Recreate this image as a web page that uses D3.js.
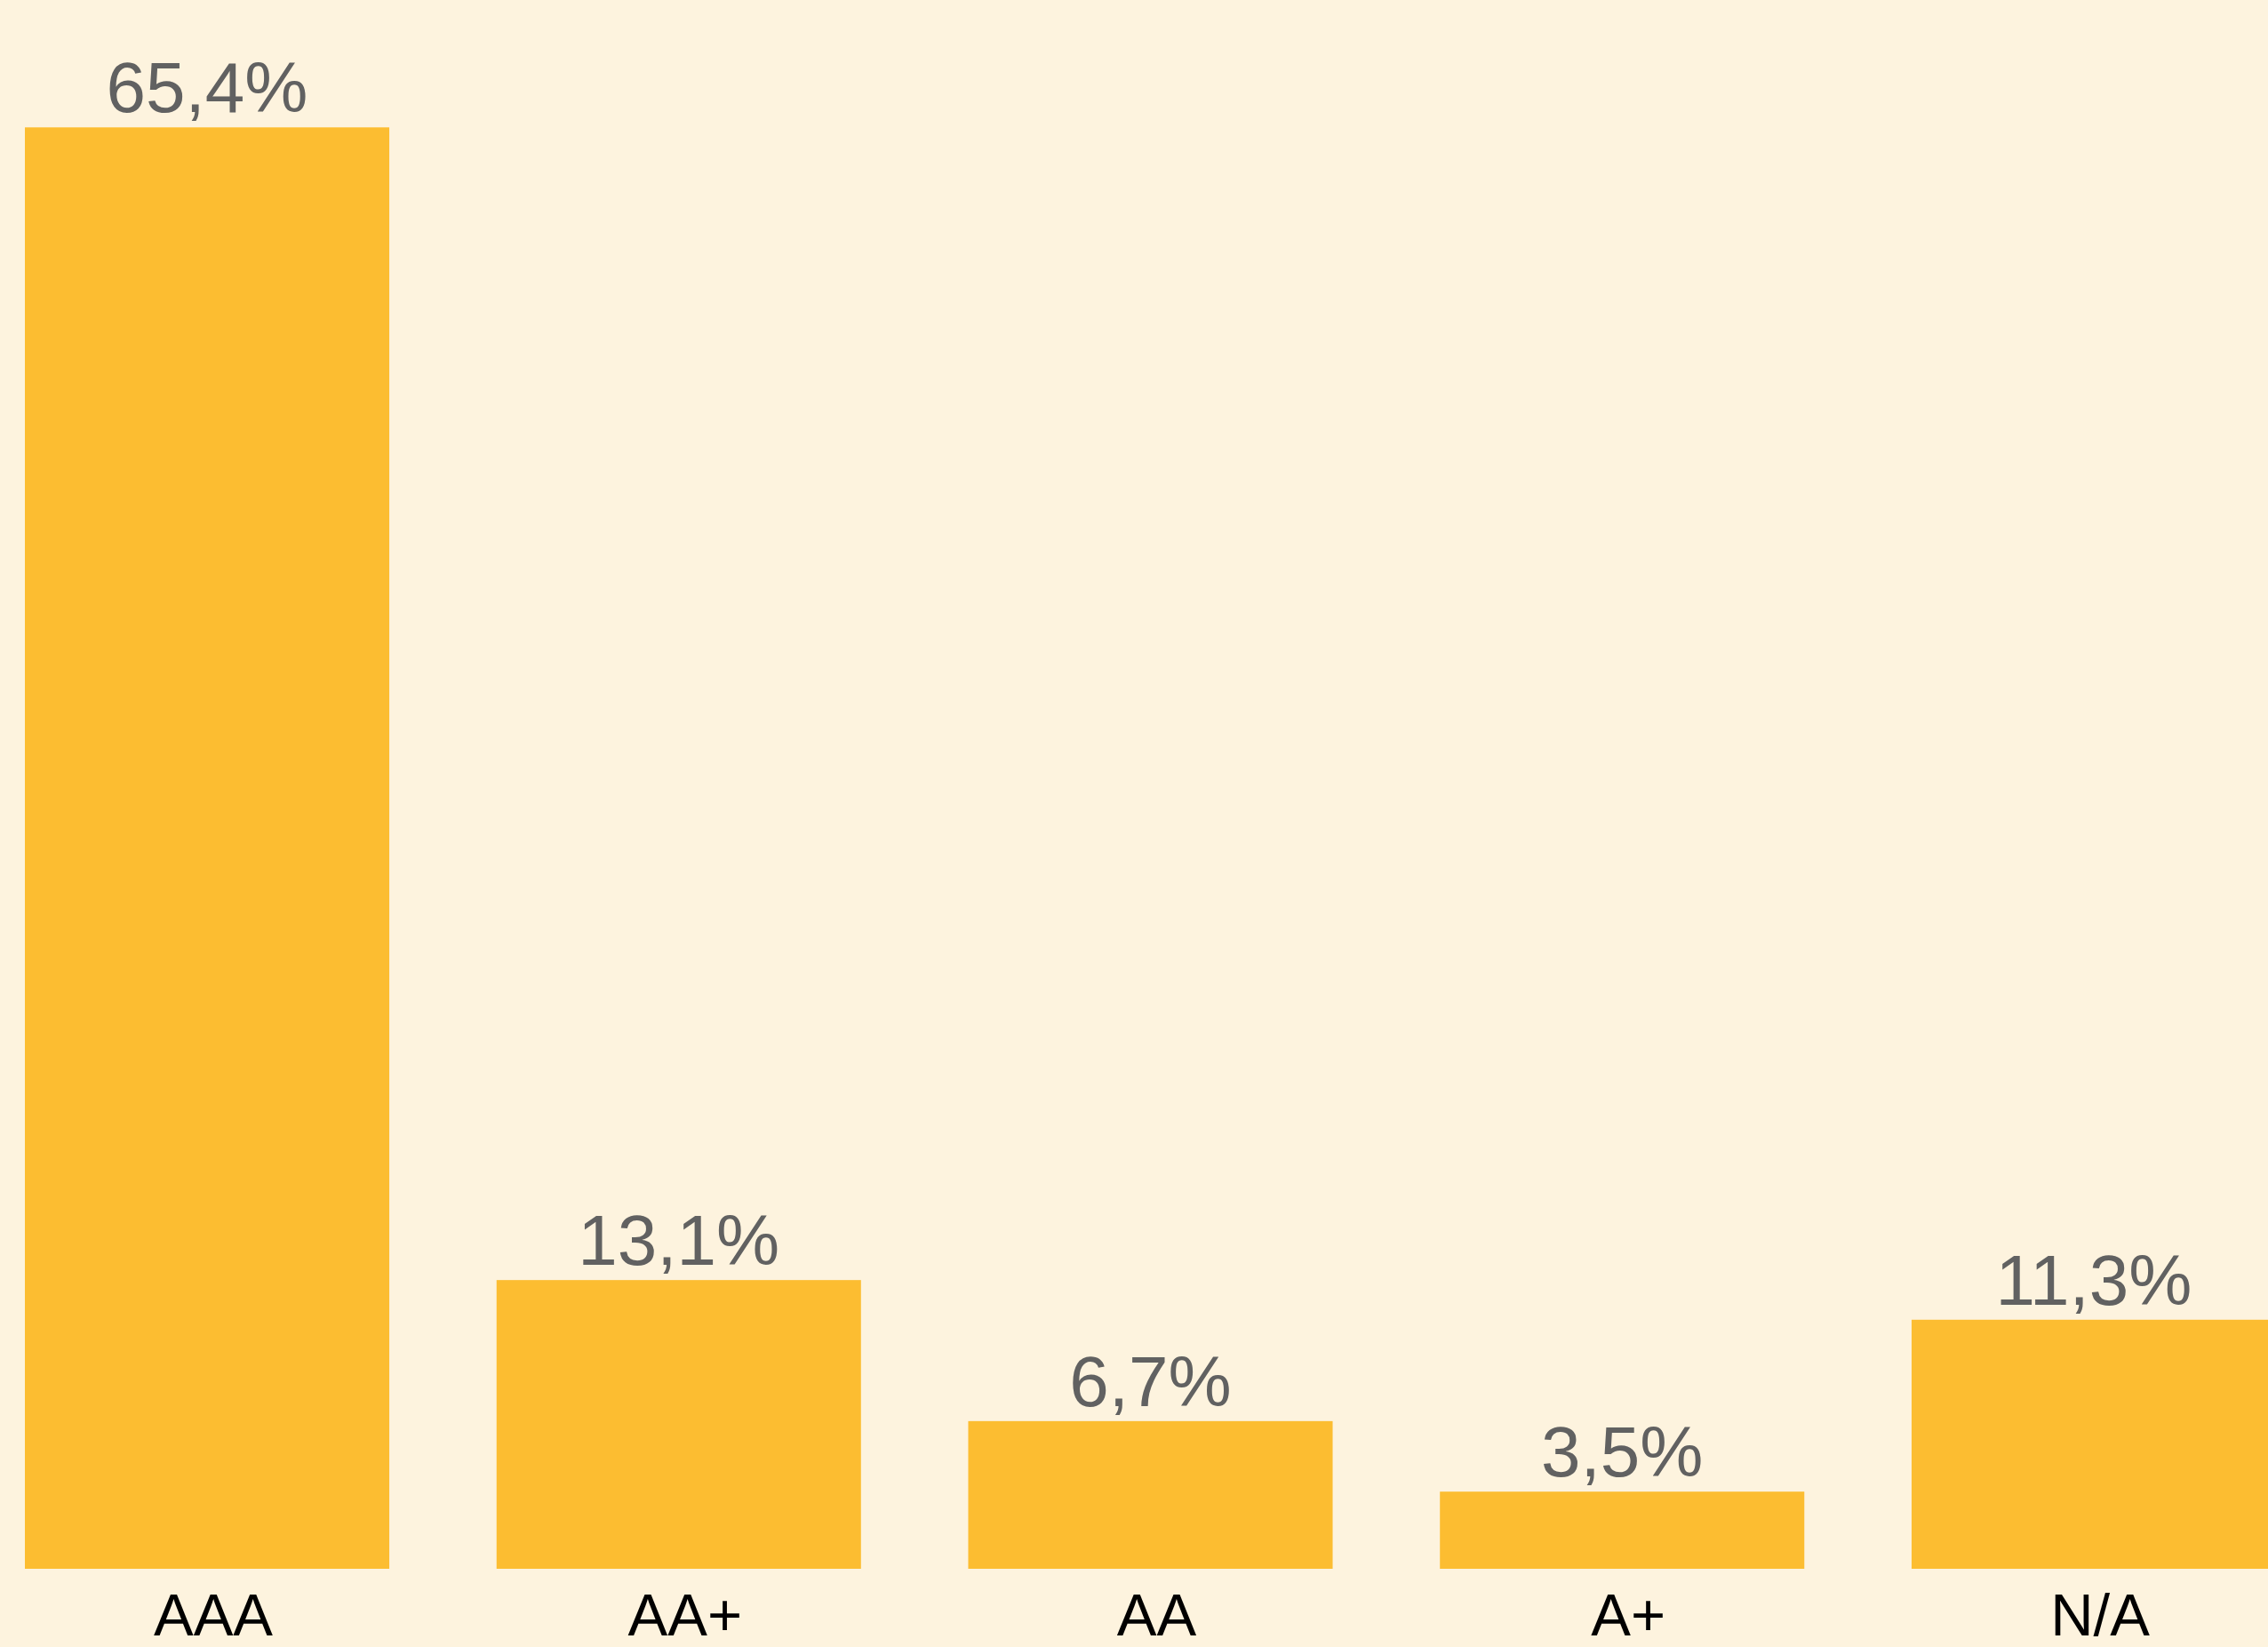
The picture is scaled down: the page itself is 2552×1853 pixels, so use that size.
<!DOCTYPE html>
<html>
<head>
<meta charset="utf-8">
<script src="https://cdn.jsdelivr.net/npm/d3@7"></script>
<style>
  html, body { margin: 0; padding: 0; background: #FDF3DE; overflow: hidden; }
  svg { display: block; }
</style>
</head>
<body>
<svg id="chart" width="2552" height="1853"></svg>
<script>
const categories = ["AAA", "AA+", "AA", "A+", "N/A"];
const values = [65.4, 13.1, 6.7, 3.5, 11.3];
const valueLabels = ["65,4%", "13,1%", "6,7%", "3,5%", "11,3%"];

const W = 2552, H = 1853;
const svg = d3.select("#chart");
svg.append("rect").attr("width", W).attr("height", H).attr("fill", "#FDF3DE");

const x = d3.scaleBand().domain(categories).range([28, 2561]).paddingInner(0.2274).paddingOuter(0);
const baseline = 1765;
const y = d3.scaleLinear().domain([0, 65.4]).range([baseline, 143.3]);

const data = categories.map((c, i) => ({ c, v: values[i], label: valueLabels[i] }));

svg.selectAll("rect.bar").data(data).enter().append("rect")
  .attr("class", "bar")
  .attr("x", d => x(d.c))
  .attr("width", x.bandwidth())
  .attr("y", d => y(d.v))
  .attr("height", d => y(0) - y(d.v))
  .attr("fill", "#FCBD31");

svg.selectAll("text.val").data(data).enter().append("text")
  .attr("class", "val")
  .attr("x", d => x(d.c) + x.bandwidth() / 2)
  .attr("y", d => y(d.v) - 17)
  .attr("text-anchor", "middle")
  .attr("font-family", "Liberation Sans, Arial, sans-serif")
  .attr("font-size", 80)
  .attr("fill", "#616161")
  .text(d => d.label);

const axis = d3.axisBottom(x).tickSize(0).tickPadding(0);
const g = svg.append("g").attr("transform", `translate(7, ${baseline})`).call(axis);
g.select(".domain").remove();
g.selectAll("text")
  .attr("font-family", "Liberation Sans, Arial, sans-serif")
  .attr("font-size", 67)
  .attr("fill", "#000")
  .attr("dy", null)
  .attr("y", 75);
</script>
</body>
</html>
